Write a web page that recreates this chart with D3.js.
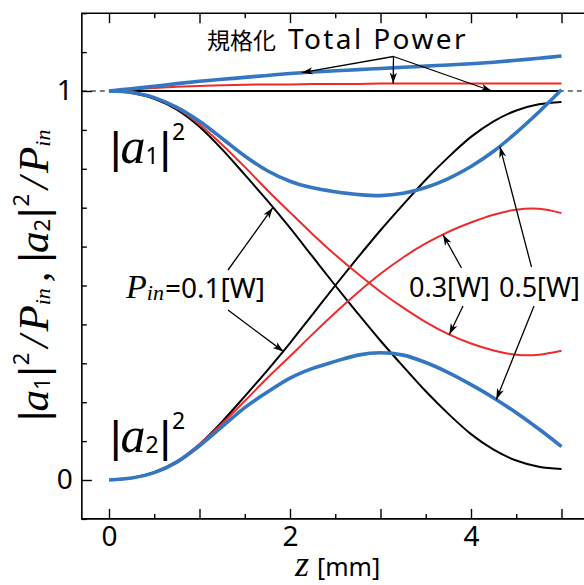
<!DOCTYPE html>
<html>
<head>
<meta charset="utf-8">
<script src="https://cdn.jsdelivr.net/npm/d3@7"></script>
<style>
  body { margin: 0; background: #fff; }
  svg { display: block; }
</style>
</head>
<body>
<svg id="chart" width="584" height="585"></svg>
<script>
// propagation distance z [mm]
const zGrid = [0, 0.25, 0.5, 0.75, 1, 1.25, 1.5, 1.75, 2, 2.25, 2.5,
               2.75, 3, 3.25, 3.5, 3.75, 4, 4.25, 4.5, 4.75, 5];

// normalised |a1|^2 / Pin and |a2|^2 / Pin for each input power
const a1_p01 = [1.000, 0.995, 0.980, 0.952, 0.908, 0.850, 0.785, 0.718, 0.648, 0.574, 0.500,
                0.428, 0.358, 0.292, 0.228, 0.170, 0.118, 0.078, 0.050, 0.034, 0.028];
const a2_p01 = [0.000, 0.005, 0.020, 0.048, 0.092, 0.150, 0.215, 0.282, 0.352, 0.426, 0.500,
                0.572, 0.642, 0.708, 0.772, 0.830, 0.882, 0.922, 0.950, 0.966, 0.972];
const a1_p03 = [1.000, 0.996, 0.982, 0.955, 0.914, 0.862, 0.805, 0.745, 0.688, 0.632, 0.579,
                0.530, 0.484, 0.443, 0.406, 0.375, 0.351, 0.333, 0.322, 0.322, 0.332];
const a2_p03 = [0.000, 0.005, 0.020, 0.048, 0.092, 0.145, 0.203, 0.262, 0.318, 0.375, 0.430,
                0.482, 0.530, 0.572, 0.608, 0.638, 0.662, 0.682, 0.695, 0.697, 0.686];
const a1_p05 = [1.000, 0.996, 0.983, 0.958, 0.922, 0.878, 0.833, 0.795, 0.768, 0.751, 0.741,
                0.734, 0.731, 0.737, 0.752, 0.775, 0.806, 0.845, 0.893, 0.946, 1.003];
const a2_p05 = [0.000, 0.005, 0.019, 0.046, 0.088, 0.137, 0.186, 0.226, 0.262, 0.287, 0.305,
                0.321, 0.327, 0.321, 0.302, 0.276, 0.245, 0.211, 0.173, 0.131, 0.086];

// normalised total power
const total_p01 = [1.000, 1.000, 1.000, 1.000, 1.000, 1.000, 1.000, 1.000, 1.000, 1.000, 1.000,
                   1.000, 1.000, 1.000, 1.000, 1.000, 1.000, 1.000, 1.000, 1.000, 1.000];
const total_p03 = [1.000, 1.004, 1.008, 1.011, 1.013, 1.015, 1.016, 1.017, 1.017, 1.018, 1.018,
                   1.018, 1.019, 1.019, 1.019, 1.019, 1.019, 1.019, 1.019, 1.019, 1.019];
const total_p05 = [1.000, 1.006, 1.012, 1.019, 1.025, 1.030, 1.035, 1.040, 1.045, 1.049, 1.052,
                   1.055, 1.058, 1.061, 1.064, 1.067, 1.070, 1.074, 1.079, 1.084, 1.090];

// axis ticks
const xMajorTicks = [0, 1, 2, 3, 4, 5];
const xLabelTicks = [0, 2, 4];
const xMinorTicks = [0.5, 1.5, 2.5, 3.5, 4.5];
const yMajorTicks = [0, 1];
const yMinorTicks = [-0.1, 0.1, 0.2, 0.3, 0.4, 0.5, 0.6, 0.7, 0.8, 0.9, 1.1, 1.2];

const seriesColors = { p01: "#000000", p03: "#ee2a2a", p05: "#3477c0" };

const svg = d3.select("#chart");
const x = d3.scaleLinear().domain([0, 5]).range([109, 561.5]);
const y = d3.scaleLinear().domain([0, 1]).range([480, 91]);

const frame = { x0: x(-0.3), x1: x(5.3), y0: y(1.2), y1: y(-0.1) };

const sans = "'Noto Sans', 'Open Sans', sans-serif";
const bar = "'Liberation Sans', 'DejaVu Sans', sans-serif";
const serif = "'Liberation Serif', 'DejaVu Serif', serif";
const cjk = "'Noto Sans CJK JP', 'Noto Sans', sans-serif";

// reference line at 1
svg.append("line")
  .attr("x1", frame.x0).attr("x2", 584)
  .attr("y1", y(1)).attr("y2", y(1))
  .attr("stroke", "#000").attr("stroke-width", 1.1)
  .attr("stroke-dasharray", "5,4");

// curves
const line = d3.line()
  .x((d, i) => x(zGrid[i]))
  .y(d => y(d))
  .curve(d3.curveCardinal.tension(0));

const curves = [
  { v: total_p01, c: seriesColors.p01, w: 2 },
  { v: a1_p01, c: seriesColors.p01, w: 2 },
  { v: a2_p01, c: seriesColors.p01, w: 2 },
  { v: total_p03, c: seriesColors.p03, w: 2 },
  { v: a1_p03, c: seriesColors.p03, w: 2 },
  { v: a2_p03, c: seriesColors.p03, w: 2 },
  { v: total_p05, c: seriesColors.p05, w: 3.6 },
  { v: a1_p05, c: seriesColors.p05, w: 3.6 },
  { v: a2_p05, c: seriesColors.p05, w: 3.6 }
];
svg.append("g").selectAll("path").data(curves).join("path")
  .attr("d", d => line(d.v))
  .attr("fill", "none")
  .attr("stroke", d => d.c)
  .attr("stroke-width", d => d.w)
  .attr("stroke-linecap", "butt");

// frame
svg.append("path")
  .attr("d", `M${frame.x1},${frame.y0}H${frame.x0}V${frame.y1}H${frame.x1}`)
  .attr("fill", "none").attr("stroke", "#000").attr("stroke-width", 1.6);

function styleAxis(g) {
  g.select(".domain").remove();
  g.selectAll(".tick line").attr("stroke", "#000").attr("stroke-width", 1.4);
  g.selectAll(".tick text").attr("font-family", sans).attr("font-size", 28).attr("fill", "#000");
}

// left axis
svg.append("g").attr("transform", `translate(${frame.x0},0)`)
  .call(d3.axisLeft(y).tickValues(yMinorTicks).tickSize(-5).tickFormat(""))
  .call(styleAxis);
svg.append("g").attr("transform", `translate(${frame.x0},0)`)
  .call(d3.axisLeft(y).tickValues(yMajorTicks).tickSize(-10).tickPadding(9).tickFormat(d3.format("d")))
  .call(styleAxis);

// bottom axis
svg.append("g").attr("transform", `translate(0,${frame.y1})`)
  .call(d3.axisBottom(x).tickValues(xMinorTicks).tickSize(-5).tickFormat(""))
  .call(styleAxis);
svg.append("g").attr("transform", `translate(0,${frame.y1})`)
  .call(d3.axisBottom(x).tickValues(xMajorTicks).tickSize(-10).tickPadding(7)
    .tickFormat(d => xLabelTicks.includes(d) ? d3.format("d")(d) : ""))
  .call(styleAxis);

// top axis (ticks only)
svg.append("g").attr("transform", `translate(0,${frame.y0})`)
  .call(d3.axisTop(x).tickValues(xMinorTicks).tickSize(-5).tickFormat(""))
  .call(styleAxis);
svg.append("g").attr("transform", `translate(0,${frame.y0})`)
  .call(d3.axisTop(x).tickValues(xMajorTicks).tickSize(-10).tickFormat(""))
  .call(styleAxis);

// math-style text built from pieces
function mathText(parent, parts, opt) {
  const t = parent.append("text").attr("fill", "#000");
  let shift = 0;
  parts.forEach(p => {
    const target = p.pos === "sub" ? opt.sub : p.pos === "sup" ? -opt.sup : 0;
    const fam = p.it ? serif : (p.bar ? bar : sans);
    const s = t.append("tspan").text(p.t)
      .attr("dy", target - shift)
      .attr("font-family", fam)
      .attr("font-style", p.it ? "italic" : "normal")
      .attr("font-size", p.size || (p.pos ? opt.small : (p.it ? opt.it : (p.bar ? opt.bar : opt.normal))));
    if (p.dx) s.attr("dx", p.dx);
    shift = target;
  });
  return t;
}

const ann = svg.append("g");

const title = ann.append("text").attr("x", 207).attr("y", 48.5).attr("fill", "#000");
title.append("tspan").attr("font-family", cjk).attr("font-size", 23).text("規格化");
title.append("tspan").attr("font-family", sans).attr("font-size", 28)
  .attr("dx", 12).attr("letter-spacing", 2.4).text("Total Power");

const absOpt = { normal: 23, bar: 44, it: 50, small: 23, sub: 1, sup: 23 };
mathText(ann, [
  { t: "|", bar: true }, { t: "a", it: true, dx: -1 }, { t: "1", pos: "sub" },
  { t: "|", bar: true, dx: 1 }, { t: "2", pos: "sup", dx: 1 }
], absOpt).attr("x", 110).attr("y", 163);
mathText(ann, [
  { t: "|", bar: true }, { t: "a", it: true, dx: -1 }, { t: "2", pos: "sub" },
  { t: "|", bar: true, dx: 1 }, { t: "2", pos: "sup", dx: 1 }
], absOpt).attr("x", 110).attr("y", 452);

mathText(ann, [
  { t: "P", it: true, size: 34 }, { t: "in", it: true, pos: "sub" }, { t: "=0.1[W]", dx: 1 }
], { normal: 28, it: 34, small: 22, sub: 2, sup: 0 }).attr("x", 126).attr("y", 298);

ann.append("text").attr("x", 409).attr("y", 297)
  .attr("font-family", sans).attr("font-size", 27).text("0.3[W]");
ann.append("text").attr("x", 499).attr("y", 297)
  .attr("font-family", sans).attr("font-size", 27).text("0.5[W]");

// axis titles
mathText(svg, [
  { t: "z", it: true }, { t: "[mm]", dx: 8 }
], { normal: 25, it: 36, small: 20, sub: 0, sup: 0 }).attr("x", 295).attr("y", 576);

mathText(svg, [
  { t: "|", bar: true }, { t: "a", it: true, dx: -1 }, { t: "1", pos: "sub" },
  { t: "|", bar: true, dx: 1 }, { t: "2", pos: "sup", dx: 1 },
  { t: "/", it: true, dx: 5 }, { t: "P", it: true, dx: 4 }, { t: "in", it: true, pos: "sub" },
  { t: ",", it: true, dx: 6 }, { t: "|", bar: true, dx: 9 }, { t: "a", it: true, dx: -1 }, { t: "2", pos: "sub" },
  { t: "|", bar: true, dx: 1 }, { t: "2", pos: "sup", dx: 1 },
  { t: "/", it: true, dx: 5 }, { t: "P", it: true, dx: 4 }, { t: "in", it: true, pos: "sub" }
], { normal: 22, bar: 40, it: 43, small: 22, sub: 2, sup: 19 })
  .attr("transform", "translate(48,421) rotate(-90)");

// arrows: start point in pixels next to a label, tip on a curve (z, value)
const defs = svg.append("defs");
defs.append("marker").attr("id", "head")
  .attr("viewBox", "-12 -5 13 10").attr("refX", 0).attr("refY", 0)
  .attr("markerWidth", 13).attr("markerHeight", 10)
  .attr("markerUnits", "userSpaceOnUse").attr("orient", "auto")
  .append("path").attr("d", "M0,0L-11,-3.6L-8,0L-11,3.6Z").attr("fill", "#000");

const arrows = [
  { from: [393.5, 56.5], tip: [2.13, 1.047] },
  { from: [393.5, 56.5], tip: [3.14, 1.019] },
  { from: [393.5, 56.5], tip: [4.23, 1.0] },
  { from: [228, 270], tip: [1.81, 0.70] },
  { from: [228, 310], tip: [1.93, 0.33] },
  { from: [461.5, 268], tip: [3.69, 0.631] },
  { from: [463, 306], tip: [3.76, 0.374] },
  { from: [531.5, 267], tip: [4.32, 0.857] },
  { from: [534, 306], tip: [4.28, 0.207] }
];
ann.selectAll("line.arrow").data(arrows).join("line")
  .attr("class", "arrow")
  .attr("x1", d => d.from[0]).attr("y1", d => d.from[1])
  .attr("x2", d => x(d.tip[0])).attr("y2", d => y(d.tip[1]))
  .attr("stroke", "#000").attr("stroke-width", 1.3)
  .attr("marker-end", "url(#head)");
</script>
</body>
</html>
